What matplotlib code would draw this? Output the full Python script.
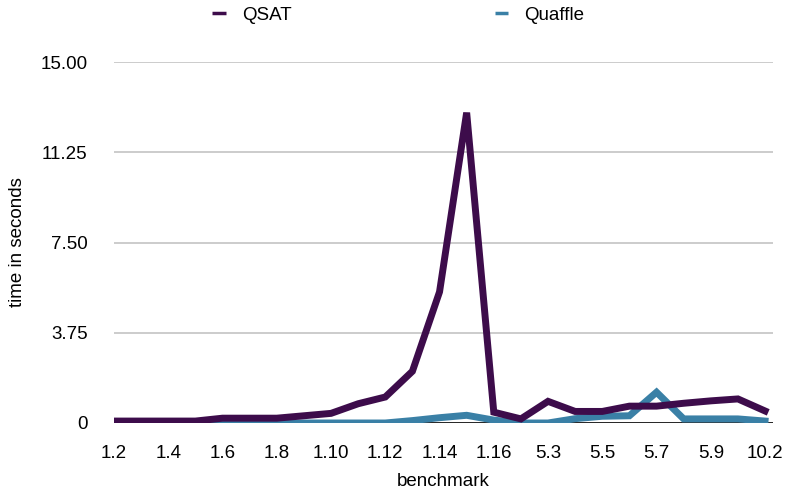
import matplotlib.pyplot as plt
from matplotlib.lines import Line2D

plt.rcParams['font.family'] = ['Liberation Sans', 'DejaVu Sans']

benchmarks = ["1.2", "1.3", "1.4", "1.5", "1.6", "1.7", "1.8", "1.9", "1.10",
              "1.11", "1.12", "1.13", "1.14", "1.15", "1.16", "5.2", "5.3",
              "5.4", "5.5", "5.6", "5.7", "5.8", "5.9", "10.1", "10.2"]
qsat = [0.08, 0.08, 0.08, 0.08, 0.2, 0.2, 0.2, 0.3, 0.4, 0.8, 1.08, 2.15,
        5.45, 12.9, 0.45, 0.17, 0.9, 0.48, 0.48, 0.7, 0.7, 0.82, 0.92, 1.0, 0.5]
quaffle = [0.0, 0.0, 0.0, 0.0, 0.0, 0.0, 0.0, 0.0, 0.0, 0.0, 0.0, 0.1,
           0.22, 0.32, 0.12, 0.0, 0.0, 0.18, 0.28, 0.3, 1.28, 0.17, 0.17, 0.17, 0.08]
yticks = [0, 3.75, 7.5, 11.25, 15]
ytick_labels = ["0", "3.75", "7.50", "11.25", "15.00"]

c_qsat = "#3d0c4b"
c_quaffle = "#3a80a6"

fig = plt.figure(figsize=(7.93, 4.93), dpi=100)
ax = fig.add_axes([0.1438, 0.142, 0.8312, 0.732])

x = list(range(len(benchmarks)))
for y in yticks[1:]:
    ax.axhline(y, color="#c4c4c4", lw=1.2, zorder=1)
ax.axhline(0, color="black", lw=1.2, zorder=1)
ax.plot(x, quaffle, color=c_quaffle, lw=5, zorder=3, solid_joinstyle="miter")
ax.plot(x, qsat, color=c_qsat, lw=5, zorder=4, solid_joinstyle="miter")

ax.set_xlim(0, 24.3)
ax.set_ylim(0, 15)
ax.set_yticks(yticks)
ax.set_yticklabels(ytick_labels)
ax.set_xticks(x[::2])
ax.set_xticklabels(benchmarks[::2])
ax.tick_params(axis="y", length=0, pad=19, labelsize=13.5)
ax.tick_params(axis="x", length=0, pad=16, labelsize=13.5)
for s in ax.spines.values():
    s.set_visible(False)

ax.set_xlabel("benchmark", fontsize=13.5, labelpad=7.5)
ax.set_ylabel("time in seconds", fontsize=13.5)
ax.yaxis.set_label_coords(-0.133, 0.5)

handles = [Line2D([], [], color=c_qsat, lw=2.5, solid_capstyle="butt"),
           Line2D([], [], color=c_quaffle, lw=2.5, solid_capstyle="butt")]
fig.legend(handles, ["QSAT", "Quaffle"], loc="center", bbox_to_anchor=(0.5025, 0.969),
           ncol=2, frameon=False, fontsize=13.5, handlelength=0.7,
           handletextpad=0.9, columnspacing=10.8, borderpad=0)

fig.savefig("out.png", dpi=100)
